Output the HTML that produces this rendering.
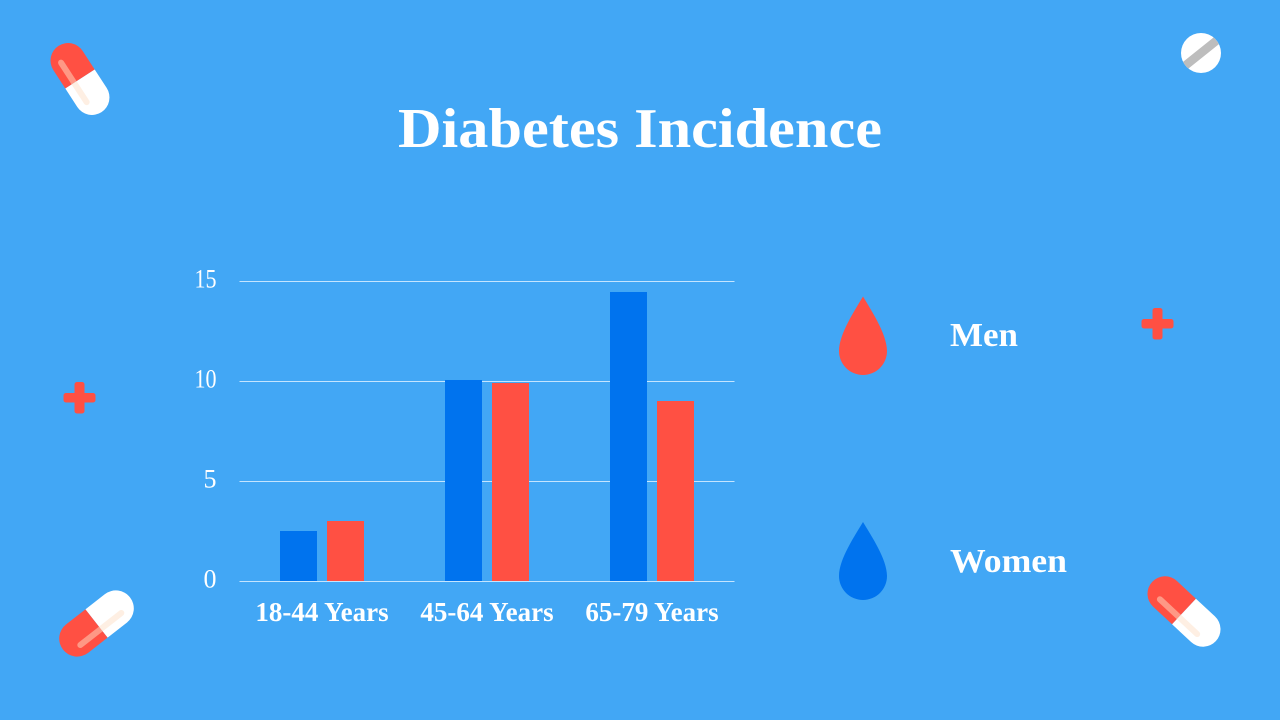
<!DOCTYPE html>
<html lang="en">
<head>
<meta charset="utf-8">
<title>Diabetes Incidence</title>
<style>
html,body{margin:0;padding:0;background:#42a7f5;}
svg{display:block;}
text{font-family:"Liberation Serif",serif;fill:#fff;}
.b{font-weight:bold;}
</style>
</head>
<body>
<svg id="slide" xmlns="http://www.w3.org/2000/svg" width="1280" height="720" viewBox="0 0 1280 720">
<defs>
  <clipPath id="tablet-clip"><circle cx="1201" cy="53" r="20"/></clipPath>
</defs>
<rect width="1280" height="720" fill="#42a7f5"/>
<text class="b" x="398" y="147" font-size="56" textLength="484" lengthAdjust="spacingAndGlyphs">Diabetes Incidence</text>

<g id="chart"></g>

<g transform="translate(80 79) rotate(-33)">
  <path d="M-17.500 0V-22a17.500 17.500 0 0 1 35 0V0Z" fill="#ff5043"/>
  <path d="M-17.500 0V22a17.500 17.500 0 0 0 35 0V0Z" fill="#fff"/>
  <line x1="-7" y1="-24" x2="-7" y2="23" stroke="#fde0c8" stroke-opacity=".5" stroke-width="6" stroke-linecap="round"/>
</g>
<g transform="translate(96.500 623.500) rotate(52)">
  <path d="M-18 0V-24.500a18 18 0 0 1 36 0V0Z" fill="#fff"/>
  <path d="M-18 0V24.500a18 18 0 0 0 36 0V0Z" fill="#ff5043"/>
  <line x1="7" y1="-26" x2="7" y2="26" stroke="#fde0c8" stroke-opacity=".5" stroke-width="6" stroke-linecap="round"/>
</g>
<g transform="translate(1184 611.500) rotate(-47)">
  <path d="M-17.500 0V-26a17.500 17.500 0 0 1 35 0V0Z" fill="#ff5043"/>
  <path d="M-17.500 0V26a17.500 17.500 0 0 0 35 0V0Z" fill="#fff"/>
  <line x1="-7.500" y1="-26" x2="-7.500" y2="25" stroke="#fde0c8" stroke-opacity=".5" stroke-width="6" stroke-linecap="round"/>
</g>
<g>
  <circle cx="1201" cy="53" r="20" fill="#fff"/>
  <line x1="1181" y1="69" x2="1221" y2="37" stroke="#bdbdbd" stroke-width="8.500" clip-path="url(#tablet-clip)"/>
</g>
<g fill="#ff5043">
  <rect x="63.500" y="393" width="32" height="9.500" rx="2.500"/>
  <rect x="74.500" y="382" width="10" height="31.500" rx="2.500"/>
</g>
<g fill="#ff5043">
  <rect x="1141.500" y="319" width="32" height="9.500" rx="2.500"/>
  <rect x="1152.500" y="308" width="10" height="31.500" rx="2.500"/>
</g>

<g>
  <path d="M863 296.500C855 310 839 334 839 351A24 24 0 0 0 887 351C887 334 871 310 863 296.500Z" fill="#ff5043"/>
  <text class="b" x="950" y="346" font-size="34" textLength="68" lengthAdjust="spacingAndGlyphs">Men</text>
</g>
<g>
  <path d="M863 522C855 535.500 839 559 839 576A24 24 0 0 0 887 576C887 559 871 535.500 863 522Z" fill="#0073ee"/>
  <text class="b" x="950" y="572" font-size="34" textLength="117" lengthAdjust="spacingAndGlyphs">Women</text>
</g>
</svg>
<script>
const categories = ["18-44 Years", "45-64 Years", "65-79 Years"];
const womenValues = [2.5, 10.05, 14.45];
const menValues = [3, 9.9, 9];
const yTicks = [0, 5, 10, 15];

const NS = "http://www.w3.org/2000/svg";
const chart = document.getElementById("chart");
const plotLeft = 239.5, plotRight = 734.5, plotBottom = 581, plotTop = 281, yMax = 15;
const barWidth = 37, barGap = 10;

function yScale(v) { return plotBottom - (v / yMax) * (plotBottom - plotTop); }
function xBand(i) { return plotLeft + (i + 0.5) * (plotRight - plotLeft) / categories.length; }
function make(tag, attrs) {
  const el = document.createElementNS(NS, tag);
  for (const k in attrs) el.setAttribute(k, attrs[k]);
  chart.appendChild(el);
  return el;
}

yTicks.forEach(function (t) {
  const line = make("line", { x1: plotLeft, x2: plotRight, y1: yScale(t) + 0.5, y2: yScale(t) + 0.5, stroke: "#c4e5ff", "stroke-width": 1 });
  
  
  const label = make("text", { x: 216.5, y: yScale(t) + 6.5, "font-size": 26, "text-anchor": "end" });
  
  
  if (String(t).length > 1) {
    label.setAttribute("textLength", 22);
    label.setAttribute("lengthAdjust", "spacingAndGlyphs");
  }
  label.textContent = t;
});

categories.forEach(function (c, i) {
  const cx = xBand(i);
  const w = make("rect", { x: cx - barGap / 2 - barWidth, y: yScale(womenValues[i]), width: barWidth, height: plotBottom - yScale(womenValues[i]), fill: "#0073ee" });
  
  
  const m = make("rect", { x: cx + barGap / 2, y: yScale(menValues[i]), width: barWidth, height: plotBottom - yScale(menValues[i]), fill: "#ff5043" });
  
  
  const label = make("text", { x: cx, y: 621, "font-size": 27, "font-weight": "bold", "text-anchor": "middle" });
  
  
  label.textContent = c;
});
</script>
</body>
</html>
